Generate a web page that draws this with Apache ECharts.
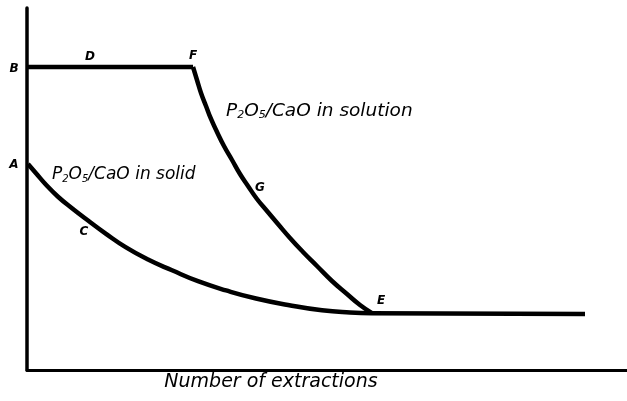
<!DOCTYPE html>
<html><head><meta charset="utf-8">
<script src="https://cdn.jsdelivr.net/npm/echarts@6/dist/echarts.min.js"></script>
<style>html,body{margin:0;padding:0;background:#fff}#c{width:627px;height:401px}</style>
</head><body><div id="c"></div>
<script>
// Arbitrary units (0-100): x = number of extractions, y = P2O5/CaO ratio
const topLine = [[0, 83.7], [27.67, 83.7]];                       // B-D-F
const solutionCurve = [[27.67, 83.70], [28.33, 80.11], [29.00, 76.52], [29.83, 72.93], [30.67, 69.34], [31.67, 65.75],
  [32.83, 61.88], [34.17, 58.01], [35.50, 54.14], [36.83, 50.83], [38.33, 47.24], [40.00, 43.92], [41.83, 40.33],
  [43.83, 36.46], [46.00, 32.60], [48.33, 28.73], [50.83, 24.59], [53.33, 20.99], [55.50, 17.96], [57.50, 15.70]]; // F-G-E
const solidCurve = [[0.17, 56.91], [1.50, 54.36], [3.17, 51.19], [5.17, 47.87], [7.50, 44.70], [10.17, 41.30],
  [13.17, 37.62], [16.50, 33.87], [20.17, 30.52], [24.17, 27.54], [28.50, 24.53], [33.17, 21.99], [38.17, 19.75],
  [43.50, 17.98], [49.17, 16.49], [53.83, 15.88], [57.50, 15.70]]; // A-C-E
const finalLine = [[57.5, 15.7], [93.0, 15.5]];                   // E onward
const pointLetters = ['B', 'D', 'F', 'A', 'C', 'G', 'E'];
const xAxisTitle = 'Number of extractions';

const chart = echarts.init(document.getElementById('c'), null, {renderer: 'canvas'});
const lineStyle = {color: '#000', width: 4.5, cap: 'butt', join: 'round'};
function mk(data, smooth) {
  return {type: 'line', data: data, smooth: smooth ? 0.5 : false, showSymbol: false, symbol: 'none',
    lineStyle: lineStyle, silent: true, animation: false};
}
const letterFont = 'italic bold 12px "DejaVu Sans", sans-serif';
const letterPos = {B: [14, 69], D: [90, 57], F: [193, 56], A: [14, 165], C: [84, 232], G: [260, 188], E: [381, 301]};
const graphics = pointLetters.map(l => ({
  type: 'text', x: letterPos[l][0], y: letterPos[l][1],
  style: {text: l, font: letterFont, fill: '#000', align: 'center', verticalAlign: 'middle'}
}));
function rich(sz) {
  return {
    m: {fontSize: sz, fontStyle: 'italic', fontFamily: 'DejaVu Sans', color: '#000'},
    s: {fontSize: Math.round(sz * 0.6), fontStyle: 'italic', fontFamily: 'DejaVu Sans', color: '#000', padding: [8, 0, 0, 0]}
  };
}
graphics.push({type: 'text', x: 226, y: 111, style: {text: '{m|P}{s|2}{m|O}{s|5}{m|/CaO in solution}', rich: rich(18.5), verticalAlign: 'middle'}});
graphics.push({type: 'text', x: 52, y: 175, style: {text: '{m|P}{s|2}{m|O}{s|5}{m|/CaO in solid}', rich: rich(17), verticalAlign: 'middle'}});
graphics.push({type: 'text', x: 271, y: 382, style: {text: xAxisTitle, font: 'italic 19px "DejaVu Sans", sans-serif', fill: '#000', align: 'center', verticalAlign: 'middle'}});

chart.setOption({
  animation: false,
  backgroundColor: '#fff',
  grid: {left: 27, right: 0, top: 8, bottom: 31},
  xAxis: {type: 'value', min: 0, max: 100, axisLine: {lineStyle: {color: '#000', width: 3}}, axisTick: {show: false},
    axisLabel: {show: false}, splitLine: {show: false}},
  yAxis: {type: 'value', min: 0, max: 100, axisLine: {show: true, lineStyle: {color: '#000', width: 3.5}}, axisTick: {show: false},
    axisLabel: {show: false}, splitLine: {show: false}},
  series: [mk(topLine, false), mk(solutionCurve, true), mk(solidCurve, true), mk(finalLine, false)],
  graphic: graphics
});
</script></body></html>
